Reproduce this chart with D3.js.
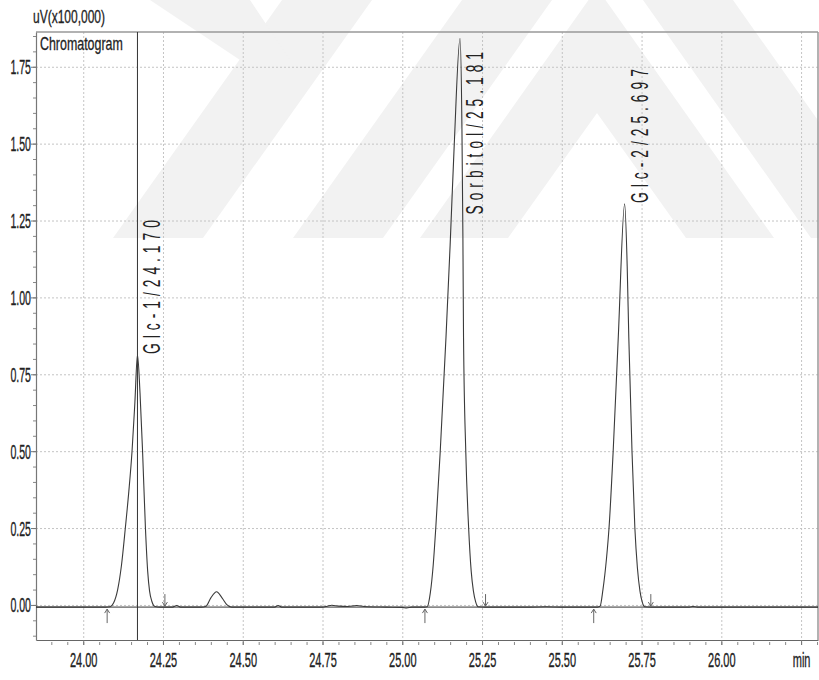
<!DOCTYPE html>
<html>
<head>
<meta charset="utf-8">
<script src="https://cdn.jsdelivr.net/npm/d3@7"></script>
<style>
  html, body { margin: 0; padding: 0; background: #fff; }
  svg { display: block; }
  text { font-family: "Liberation Sans", Arial, sans-serif; }
</style>
</head>
<body>
<svg id="chart" width="819" height="680"></svg>
<script>
// ---- data -------------------------------------------------------------
const xTicks = [24.00, 24.25, 24.50, 24.75, 25.00, 25.25, 25.50, 25.75, 26.00, 26.25];
const xTickLabels = ["24.00", "24.25", "24.50", "24.75", "25.00", "25.25", "25.50", "25.75", "26.00", "min"];
const yTicks = [0.00, 0.25, 0.50, 0.75, 1.00, 1.25, 1.50, 1.75];
const yTickLabels = ["0.00", "0.25", "0.50", "0.75", "1.00", "1.25", "1.50", "1.75"];

const peakNames   = ["Glc-1", "Sorbitol", "Glc-2"];
const peakTimes   = [24.170, 25.181, 25.697];
const peakHeights = [0.813, 1.842, 1.304];
const peakStarts  = [24.075, 25.071, 25.600];
const peakEnds    = [24.256, 25.261, 25.779];

const cursorTime = 24.170;
const baselineLevel = -0.007;

// detector signal, uV x 100,000 against retention time (min)
const signalTime = [
  23.852, 24.000, 24.070, 24.084, 24.095, 24.108, 24.120, 24.132, 24.143, 24.153,
  24.162, 24.170, 24.178, 24.186, 24.195, 24.202, 24.208, 24.215, 24.225, 24.240,
  24.280, 24.293, 24.305, 24.370, 24.385, 24.400, 24.418, 24.435, 24.450, 24.465,
  24.600, 24.611, 24.622, 24.750, 24.765, 24.779, 24.800, 24.830, 24.857, 24.880,
  24.950, 25.000, 25.014, 25.030, 25.070, 25.078, 25.088, 25.097, 25.105, 25.119,
  25.137, 25.150, 25.163, 25.181, 25.187, 25.190, 25.192, 25.199, 25.208, 25.216,
  25.223, 25.230, 25.238, 25.260, 25.400, 25.450, 25.500, 25.612, 25.620, 25.629,
  25.640, 25.648, 25.661, 25.677, 25.697, 25.705, 25.710, 25.720, 25.729, 25.737,
  25.745, 25.752, 25.760, 25.780, 25.900, 25.911, 25.925, 26.303
];
const signalValue = [
  -0.007, -0.007, -0.007, -0.006, 0.006, 0.050, 0.130, 0.250, 0.370, 0.500,
  0.660, 0.813, 0.690, 0.500, 0.250, 0.110, 0.045, 0.012, -0.005, -0.007,
  -0.007, -0.002, -0.007, -0.007, -0.004, 0.023, 0.043, 0.023, 0.001, -0.007,
  -0.007, -0.002, -0.007, -0.007, -0.004, -0.001, -0.004, -0.005, -0.002, -0.005,
  -0.007, -0.008, -0.010, -0.007, -0.007, -0.006, 0.040, 0.130, 0.250, 0.500,
  0.870, 1.170, 1.500, 1.842, 1.550, 1.200, 0.870, 0.500, 0.250, 0.110,
  0.045, 0.010, -0.006, -0.007, -0.007, -0.006, -0.007, -0.007, -0.004, 0.050,
  0.150, 0.250, 0.500, 0.870, 1.304, 1.100, 0.870, 0.500, 0.250, 0.120,
  0.045, 0.010, -0.006, -0.007, -0.007, -0.005, -0.007, -0.007
];

// ---- layout -----------------------------------------------------------
const plotLeft = 36, plotRight = 818, plotTop = 32, plotBottom = 640;

const svg = d3.select("#chart");
const x = d3.scaleLinear().domain([23.852, 26.303]).range([plotLeft, plotRight]);
const y = d3.scaleLinear().domain([-0.114, 1.863]).range([plotBottom, plotTop]);

// ---- faint background emblem -----------------------------------------
const emblem = svg.append("g").attr("fill", "#f2f2f2");
const emblemShapes = [
  [[420, 238], [597, -12], [774, 238], [686, 238], [597, 113], [508, 238]],
  [[293, 238], [383, 238], [552, 0], [462, 0]],
  [[113, 238], [203, 238], [372, 0], [282, 0]],
  [[643, 0], [733, 0], [901, 238], [811, 238]],
  [[150, 0], [250, 0], [290, 60], [240, 60]]
];
emblem.selectAll("polygon").data(emblemShapes).join("polygon")
  .attr("points", d => d.map(p => p.join(",")).join(" "));

// ---- grid -------------------------------------------------------------
const grid = svg.append("g").attr("stroke", "#c4c4c4").attr("stroke-width", 1)
  .attr("stroke-dasharray", "2,2");
grid.selectAll("line.gx").data(xTicks).join("line").attr("class", "gx")
  .attr("x1", d => x(d) + 0.5).attr("x2", d => x(d) + 0.5)
  .attr("y1", plotTop).attr("y2", plotBottom);
grid.selectAll("line.gy").data(yTicks).join("line").attr("class", "gy")
  .attr("x1", plotLeft).attr("x2", plotRight)
  .attr("y1", d => y(d) + 0.5).attr("y2", d => y(d) + 0.5);

// ---- frame ------------------------------------------------------------
svg.append("line").attr("x1", plotLeft).attr("x2", plotRight)
  .attr("y1", plotTop).attr("y2", plotTop)
  .attr("stroke", "#999").attr("stroke-width", 1.5);
svg.append("line").attr("x1", plotRight).attr("x2", plotRight)
  .attr("y1", plotTop).attr("y2", plotBottom)
  .attr("stroke", "#999").attr("stroke-width", 1.5);

// ---- minor ticks ------------------------------------------------------
const xMinor = d3.range(0, 50).map(i => 23.85 + i * 0.05).filter(v => v >= 23.852 && v <= 26.303);
const yMinor = d3.range(0, 40).map(i => -0.10 + i * 0.05).filter(v => v <= 1.863);
svg.append("g").attr("stroke", "#888").selectAll("line").data(xMinor).join("line")
  .attr("x1", d => x(d) + 0.5).attr("x2", d => x(d) + 0.5)
  .attr("y1", plotBottom + 2).attr("y2", plotBottom + 5);
svg.append("g").attr("stroke", "#888").selectAll("line").data(yMinor).join("line")
  .attr("x1", plotLeft - 3).attr("x2", plotLeft)
  .attr("y1", d => y(d) + 0.5).attr("y2", d => y(d) + 0.5);

// ---- axes -------------------------------------------------------------
const gx = svg.append("g").attr("transform", `translate(0,${plotBottom})`)
  .call(d3.axisBottom(x).tickValues(xTicks).tickFormat((d, i) => xTickLabels[i])
    .tickSize(5).tickSizeOuter(0));
gx.select(".domain").attr("stroke", "#666").attr("stroke-width", 1.2);
gx.selectAll(".tick line").attr("stroke", "#777");
gx.selectAll(".tick text").attr("fill", "#222").attr("y", 0).attr("dy", 0)
  .attr("font-size", 20).attr("font-family", null)
  .attr("stroke", "#222").attr("stroke-width", 0.35)
  .attr("transform", "translate(0,27) scale(0.55,1)");

const gy = svg.append("g").attr("transform", `translate(${plotLeft},0)`)
  .call(d3.axisLeft(y).tickValues(yTicks).tickFormat((d, i) => yTickLabels[i])
    .tickSize(5).tickSizeOuter(0));
gy.select(".domain").attr("stroke", "#777").attr("stroke-width", 1.2);
gy.selectAll(".tick line").attr("stroke", "#777");
gy.selectAll(".tick text").attr("fill", "#222").attr("x", 0).attr("dy", 0)
  .attr("font-size", 20).attr("font-family", null)
  .attr("stroke", "#222").attr("stroke-width", 0.35)
  .attr("transform", "translate(-5,7) scale(0.53,1)");

// ---- zero line and cursor -----------------------------------------------
svg.append("line").attr("x1", plotLeft).attr("x2", plotRight)
  .attr("y1", y(baselineLevel)).attr("y2", y(baselineLevel))
  .attr("stroke", "#333").attr("stroke-width", 1);
svg.append("line").attr("x1", x(cursorTime)).attr("x2", x(cursorTime))
  .attr("y1", plotTop).attr("y2", plotBottom)
  .attr("stroke", "#333").attr("stroke-width", 1);

// ---- signal trace -----------------------------------------------------
const signal = signalTime.map((t, i) => [t, signalValue[i]]);
svg.append("path").datum(signal)
  .attr("fill", "none").attr("stroke", "#3a3a3a").attr("stroke-width", 1.1)
  .attr("d", d3.line().x(d => x(d[0])).y(d => y(d[1])).curve(d3.curveMonotoneX));

// ---- integration markers ----------------------------------------------
const marks = svg.append("g").attr("stroke", "#666").attr("stroke-width", 1).attr("fill", "none");
const yb = y(baselineLevel);
peakStarts.forEach(t => {
  const px = x(t);
  marks.append("path").attr("d", `M${px},${yb + 16} L${px},${yb + 2} M${px - 2.5},${yb + 6} L${px},${yb + 2} L${px + 2.5},${yb + 6}`);
});
peakEnds.forEach(t => {
  const px = x(t);
  marks.append("path").attr("d", `M${px},${yb - 13} L${px},${yb - 1} M${px - 2.5},${yb - 5} L${px},${yb - 1} L${px + 2.5},${yb - 5}`);
});

// ---- peak labels ------------------------------------------------------
peakNames.forEach((name, i) => {
  const label = `${name}/${peakTimes[i].toFixed(3)}`;
  const ax = x(peakTimes[i]);
  const ay = y(peakHeights[i]);
  const g = svg.append("g");
  const t = g.append("text").text(label)
    .attr("fill", "#222").attr("font-size", 23).attr("letter-spacing", 8.3)
    .attr("transform", "scale(0.6,1)");
  const len = t.node().getComputedTextLength() * 0.6;
  const startY = Math.max(ay - 1, plotTop + 15 + len);
  g.attr("transform", `translate(${ax + 23},${startY}) rotate(-90)`);
});

// ---- titles -----------------------------------------------------------
svg.append("text").text("uV(x100,000)").attr("fill", "#222")
  .attr("stroke", "#222").attr("stroke-width", 0.3)
  .attr("font-size", 18).attr("transform", "translate(33,23) scale(0.667,1)");
svg.append("text").text("Chromatogram").attr("fill", "#222")
  .attr("stroke", "#222").attr("stroke-width", 0.3)
  .attr("font-size", 18).attr("transform", "translate(40,50) scale(0.69,1)");
</script>
</body>
</html>
